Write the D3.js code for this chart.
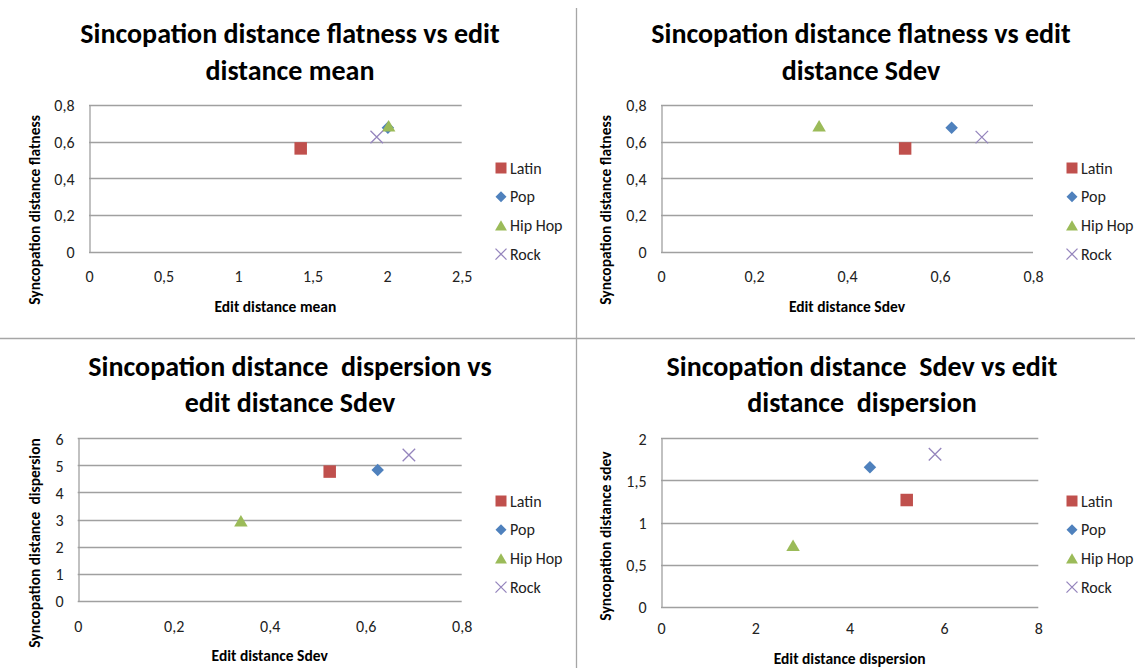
<!DOCTYPE html>
<html>
<head>
<meta charset="utf-8">
<script src="https://cdn.jsdelivr.net/npm/d3@7"></script>
<style>
  html, body { margin: 0; padding: 0; background: #fff; }
  svg { display: block; font-family: Carlito, Calibri, Lato, "Open Sans", sans-serif; }
</style>
</head>
<body>
<svg id="chart" width="1135" height="668"></svg>
<script>
// Genres and per-genre metrics
const genres = ["Latin", "Pop", "Hip Hop", "Rock"];
const editMean       = [1.42, 2.005, 2.01, 1.93];
const editSdev       = [0.525, 0.625, 0.34, 0.69];
const editDispersion = [5.21, 4.43, 2.80, 5.81];
const syncFlatness   = [0.563, 0.676, 0.687, 0.625];
const syncDispersion = [4.77, 4.83, 2.95, 5.38];
const syncSdev       = [1.267, 1.656, 0.73, 1.81];

// Axis tick values
const ticksEditMean  = [0, 0.5, 1, 1.5, 2, 2.5];
const ticksEditSdev  = [0, 0.2, 0.4, 0.6, 0.8];
const ticksEditDisp  = [0, 2, 4, 6, 8];
const ticksFlatness  = [0, 0.2, 0.4, 0.6, 0.8];
const ticksSyncDisp  = [0, 1, 2, 3, 4, 5, 6];
const ticksSyncSdev  = [0, 0.5, 1, 1.5, 2];

// Series styling
const colors = ["#C0504D", "#4F81BD", "#9BBB59", "#9585BD"];
const shapes = ["square", "diamond", "triangle", "cross"];

const fmt = d3.formatLocale({decimal: ",", thousands: ".", grouping: [3], currency: ["", ""]}).format("~g");

const panels = [
  {
    title: ["Sincopation distance flatness vs edit", "distance mean"],
    xTitle: "Edit distance mean", yTitle: "Syncopation distance flatness",
    xs: editMean, ys: syncFlatness, xTicks: ticksEditMean, yTicks: ticksFlatness,
    box: {l: 89, r: 461.7, t: 105, b: 251.5},
    titleX: 290, titleY: [43, 80], xLabelY: 282, xTitleY: 312, yTitleX: 40, yTitleY: 210,
    legendX: 501, legendY: 168
  },
  {
    title: ["Sincopation distance flatness vs edit", "distance Sdev"],
    xTitle: "Edit distance Sdev", yTitle: "Syncopation distance flatness",
    xs: editSdev, ys: syncFlatness, xTicks: ticksEditSdev, yTicks: ticksFlatness,
    box: {l: 661, r: 1033, t: 105, b: 251.7},
    titleX: 861, titleY: [43, 80], xLabelY: 282, xTitleY: 312, yTitleX: 611, yTitleY: 210,
    legendX: 1072, legendY: 168
  },
  {
    title: ["Sincopation distance  dispersion vs", "edit distance Sdev"],
    xTitle: "Edit distance Sdev", yTitle: "Syncopation distance  dispersion",
    xs: editSdev, ys: syncDispersion, xTicks: ticksEditSdev, yTicks: ticksSyncDisp,
    box: {l: 77.7, r: 461.7, t: 438.3, b: 600.7},
    titleX: 290, titleY: [376, 412], xLabelY: 632, xTitleY: 661, yTitleX: 40, yTitleY: 543,
    legendX: 501, legendY: 501
  },
  {
    title: ["Sincopation distance  Sdev vs edit", "distance  dispersion"],
    xTitle: "Edit distance dispersion", yTitle: "Syncopation distance sdev",
    xs: editDispersion, ys: syncSdev, xTicks: ticksEditDisp, yTicks: ticksSyncSdev,
    box: {l: 661, r: 1038.3, t: 438.3, b: 606.7},
    titleX: 862, titleY: [376, 412], xLabelY: 634, xTitleY: 664, yTitleX: 611, yTitleY: 536,
    legendX: 1072, legendY: 501
  }
];

const svg = d3.select("#chart");

// Panel dividers
svg.append("line").attr("x1", 576.5).attr("x2", 576.5).attr("y1", 8).attr("y2", 668)
  .attr("stroke", "#a6a6a6").attr("stroke-width", 1.3);
svg.append("line").attr("x1", 0).attr("x2", 1135).attr("y1", 338.5).attr("y2", 338.5)
  .attr("stroke", "#a6a6a6").attr("stroke-width", 1.3);

function markerPath(shape, s) {
  const p = d3.path();
  if (shape === "square") {
    p.rect(-s / 2, -s / 2, s, s);
  } else if (shape === "diamond") {
    const h = s / 2;
    p.moveTo(0, -h); p.lineTo(h, 0); p.lineTo(0, h); p.lineTo(-h, 0); p.closePath();
  } else if (shape === "triangle") {
    const w = s * 1.08 / 2, h = s * 0.92 / 2;
    p.moveTo(0, -h); p.lineTo(w, h); p.lineTo(-w, h); p.closePath();
  } else {
    const h = s / 2;
    p.moveTo(-h, -h); p.lineTo(h, h); p.moveTo(h, -h); p.lineTo(-h, h);
  }
  return p.toString();
}

function drawMarker(g, i, cx, cy, s) {
  const shape = shapes[i];
  const el = g.append("path")
    .attr("transform", `translate(${cx},${cy})`)
    .attr("d", markerPath(shape, s));
  if (shape === "cross") {
    el.attr("fill", "none").attr("stroke", colors[i]).attr("stroke-width", 1.3);
  } else {
    el.attr("fill", colors[i]);
  }
}

panels.forEach(pn => {
  const g = svg.append("g");
  const b = pn.box;
  const x = d3.scaleLinear().domain(d3.extent(pn.xTicks)).range([b.l, b.r]);
  const y = d3.scaleLinear().domain(d3.extent(pn.yTicks)).range([b.b, b.t]);

  // Title
  const title = g.append("text").attr("text-anchor", "middle")
    .attr("font-weight", "bold").attr("font-size", 28).attr("fill", "#000");
  pn.title.forEach((line, k) => {
    title.append("tspan").attr("x", pn.titleX).attr("y", pn.titleY[k])
      .attr("xml:space", "preserve").text(line);
  });

  // Horizontal gridlines
  g.append("g").selectAll("line").data(pn.yTicks).join("line")
    .attr("x1", b.l).attr("x2", b.r)
    .attr("y1", d => Math.round(y(d)) + 0.5).attr("y2", d => Math.round(y(d)) + 0.5)
    .attr("stroke", "#a0a0a0").attr("stroke-width", 1.3);

  // Y axis
  const yAxis = g.append("g").attr("transform", `translate(${Math.round(b.l) + 0.5},0)`)
    .call(d3.axisLeft(y).tickValues(pn.yTicks).tickFormat(fmt).tickSize(0).tickPadding(15));
  yAxis.select(".domain").attr("stroke", "#a0a0a0").attr("stroke-width", 1.3);
  yAxis.selectAll("text").attr("dy", "0.36em");

  // X axis labels
  const xAxis = g.append("g").attr("transform", `translate(0,${Math.round(b.b) + 0.5})`)
    .call(d3.axisBottom(x).tickValues(pn.xTicks).tickFormat(fmt).tickSize(0));
  xAxis.select(".domain").remove();
  xAxis.selectAll("text").attr("dy", 0).attr("y", pn.xLabelY - Math.round(b.b) - 0.5);

  [yAxis, xAxis].forEach(ax => {
    ax.selectAll("text").attr("font-size", 16).attr("fill", "#222")
      .attr("font-family", "Carlito, Calibri, Lato, sans-serif");
  });

  // Axis titles
  g.append("text").attr("x", (b.l + b.r) / 2).attr("y", pn.xTitleY)
    .attr("text-anchor", "middle").attr("font-weight", "bold").attr("font-size", 15.5)
    .text(pn.xTitle);
  g.append("text").attr("transform", `translate(${pn.yTitleX},${pn.yTitleY}) rotate(-90)`)
    .attr("text-anchor", "middle").attr("font-weight", "bold").attr("font-size", 15.5)
    .attr("xml:space", "preserve").text(pn.yTitle);

  // Points
  genres.forEach((gn, i) => drawMarker(g, i, x(pn.xs[i]), y(pn.ys[i]), 12.5));

  // Legend
  genres.forEach((gn, i) => {
    const ly = pn.legendY + i * 28.7;
    drawMarker(g, i, pn.legendX, ly, 11);
    g.append("text").attr("x", pn.legendX + 9).attr("y", ly + 5.5)
      .attr("font-size", 16).attr("fill", "#222").text(gn);
  });
});
</script>
</body>
</html>
